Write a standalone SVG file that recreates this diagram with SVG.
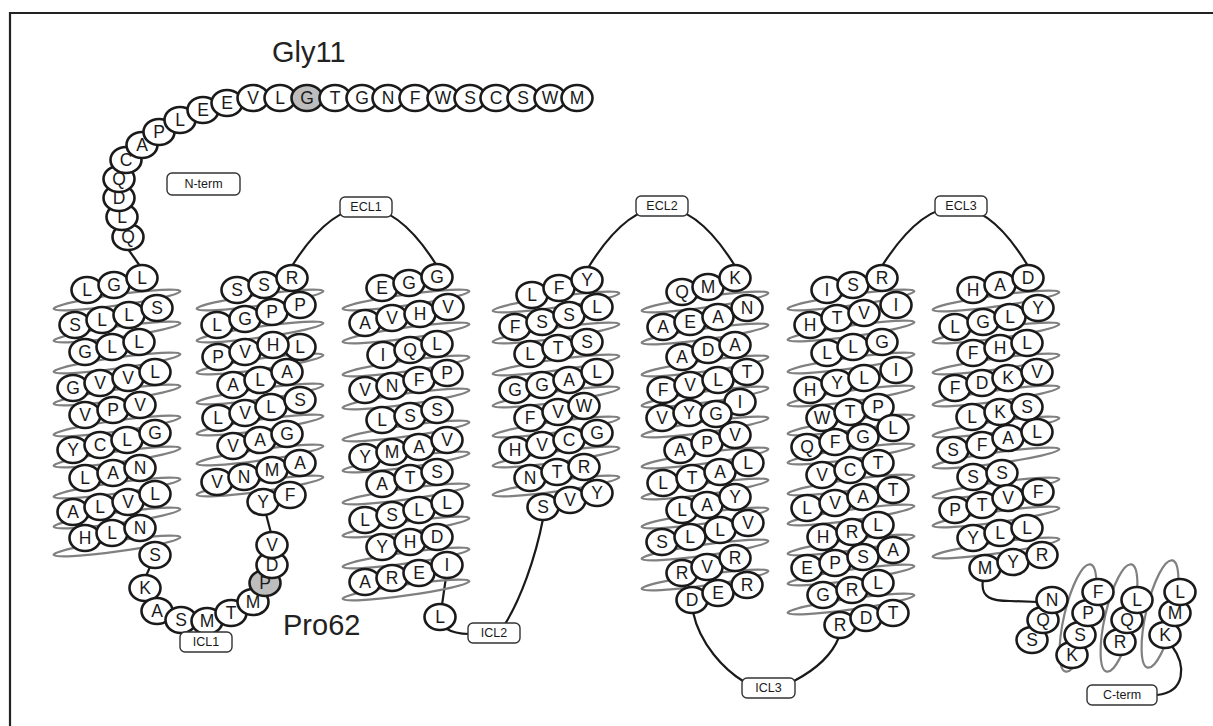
<svg xmlns="http://www.w3.org/2000/svg" xmlns:xlink="http://www.w3.org/1999/xlink" width="1213" height="726" viewBox="0 0 1213 726">
<style>
.res ellipse{rx:15.5px;ry:13px;fill:#fff;stroke:#1a1a1a;stroke-width:2.6}
.res ellipse.hl{fill:#bdbdbd}
.res text{font-family:"Liberation Sans",Arial,sans-serif;font-size:17.5px;text-anchor:middle;dominant-baseline:central;fill:#1a1a1a}
.coil{fill:none;stroke:#808080;stroke-width:2.2}
.conn path{fill:none;stroke:#1a1a1a;stroke-width:2.2}
.lbl rect{fill:#fff;stroke:#333;stroke-width:1.4}
.lbl text{font-family:"Liberation Sans",Arial,sans-serif;font-size:12.5px;text-anchor:middle;dominant-baseline:central;fill:#1a1a1a}
.big{font-family:"Liberation Sans",Arial,sans-serif;font-size:29px;fill:#222}
.frame{stroke:#222;stroke-width:2.2;fill:none}
</style>
<defs>
<ellipse id="loop" class="coil" cx="0" cy="0" rx="64" ry="5.5" transform="rotate(-8)"/>
<ellipse id="cloop" class="coil" cx="0" cy="0" rx="14" ry="55" transform="rotate(13)"/>
</defs>
<rect width="1213" height="726" fill="#fff"/>
<path class="frame" d="M10,726 L10,13 L1213,13"/>

<text class="big" x="272" y="62">Gly11</text>
<text class="big" x="283" y="635">Pro62</text>

<g id="connectors" class="conn">
<path d="M128,249 L140,266"/>
<path d="M150,567 L146,576"/>
<path d="M266,514 L271,533"/>
<path d="M292,266 Q365,150 437,266"/>
<path d="M446,577 L442,605"/>
<path d="M445,628 Q455,634 469,634"/>
<path d="M543,519 C535,560 520,600 505,624"/>
<path d="M588,268 Q662,148 735,266"/>
<path d="M693,612 C700,645 725,670 743,681"/>
<path d="M794,681 C815,670 832,655 839,637"/>
<path d="M882,266 Q957,148 1028,266"/>
<path d="M983,580 C980,598 992,601 1010,601 L1038,602"/>
<path d="M1172,646 C1186,665 1186,692 1157,695"/>
</g>

<g id="N-term" class="res">
<ellipse cx="128" cy="237"/><text x="128" y="237">Q</text>
<ellipse cx="122" cy="217"/><text x="122" y="217">L</text>
<ellipse cx="119" cy="198"/><text x="119" y="198">D</text>
<ellipse cx="119" cy="179"/><text x="119" y="179">Q</text>
<ellipse cx="126" cy="160"/><text x="126" y="160">C</text>
<ellipse cx="142" cy="145"/><text x="142" y="145">A</text>
<ellipse cx="159" cy="132"/><text x="159" y="132">P</text>
<ellipse cx="180" cy="120"/><text x="180" y="120">L</text>
<ellipse cx="203" cy="110"/><text x="203" y="110">E</text>
<ellipse cx="227" cy="103"/><text x="227" y="103">E</text>
<ellipse cx="253" cy="98"/><text x="253" y="98">V</text>
<ellipse cx="280" cy="98"/><text x="280" y="98">L</text>
<ellipse cx="307" cy="98" class="hl"/><text x="307" y="98">G</text>
<ellipse cx="335" cy="98"/><text x="335" y="98">T</text>
<ellipse cx="362" cy="98"/><text x="362" y="98">G</text>
<ellipse cx="388" cy="98"/><text x="388" y="98">N</text>
<ellipse cx="415" cy="98"/><text x="415" y="98">F</text>
<ellipse cx="443" cy="98"/><text x="443" y="98">W</text>
<ellipse cx="470" cy="98"/><text x="470" y="98">S</text>
<ellipse cx="496" cy="98"/><text x="496" y="98">C</text>
<ellipse cx="523" cy="98"/><text x="523" y="98">S</text>
<ellipse cx="550" cy="98"/><text x="550" y="98">W</text>
<ellipse cx="577" cy="98"/><text x="577" y="98">M</text>
</g>

<g id="TM1" class="res">
<use xlink:href="#loop" x="117" y="300"/><use xlink:href="#loop" x="117" y="332"/><use xlink:href="#loop" x="117" y="363"/><use xlink:href="#loop" x="117" y="395"/><use xlink:href="#loop" x="117" y="426"/><use xlink:href="#loop" x="117" y="457"/><use xlink:href="#loop" x="117" y="488"/><use xlink:href="#loop" x="117" y="518"/><use xlink:href="#loop" x="117" y="546"/>
<ellipse cx="87" cy="290"/><text x="87" y="290">L</text>
<ellipse cx="114" cy="285"/><text x="114" y="285">G</text>
<ellipse cx="142" cy="278"/><text x="142" y="278">L</text>
<ellipse cx="75" cy="325"/><text x="75" y="325">S</text>
<ellipse cx="102" cy="320"/><text x="102" y="320">L</text>
<ellipse cx="129" cy="315"/><text x="129" y="315">L</text>
<ellipse cx="157" cy="308"/><text x="157" y="308">S</text>
<ellipse cx="85" cy="352"/><text x="85" y="352">G</text>
<ellipse cx="112" cy="347"/><text x="112" y="347">L</text>
<ellipse cx="139" cy="342"/><text x="139" y="342">L</text>
<ellipse cx="73" cy="388"/><text x="73" y="388">G</text>
<ellipse cx="100" cy="383"/><text x="100" y="383">V</text>
<ellipse cx="128" cy="378"/><text x="128" y="378">V</text>
<ellipse cx="155" cy="372"/><text x="155" y="372">L</text>
<ellipse cx="85" cy="415"/><text x="85" y="415">V</text>
<ellipse cx="113" cy="410"/><text x="113" y="410">P</text>
<ellipse cx="140" cy="405"/><text x="140" y="405">V</text>
<ellipse cx="73" cy="450"/><text x="73" y="450">Y</text>
<ellipse cx="100" cy="445"/><text x="100" y="445">C</text>
<ellipse cx="127" cy="440"/><text x="127" y="440">L</text>
<ellipse cx="155" cy="433"/><text x="155" y="433">G</text>
<ellipse cx="85" cy="478"/><text x="85" y="478">L</text>
<ellipse cx="113" cy="473"/><text x="113" y="473">A</text>
<ellipse cx="140" cy="468"/><text x="140" y="468">N</text>
<ellipse cx="73" cy="512"/><text x="73" y="512">A</text>
<ellipse cx="100" cy="507"/><text x="100" y="507">L</text>
<ellipse cx="128" cy="502"/><text x="128" y="502">V</text>
<ellipse cx="155" cy="494"/><text x="155" y="494">L</text>
<ellipse cx="85" cy="538"/><text x="85" y="538">H</text>
<ellipse cx="112" cy="533"/><text x="112" y="533">L</text>
<ellipse cx="140" cy="528"/><text x="140" y="528">N</text>
</g>

<g id="ICL1-loop" class="res">
<ellipse cx="155" cy="555"/><text x="155" y="555">S</text>
<ellipse cx="145" cy="588"/><text x="145" y="588">K</text>
<ellipse cx="157" cy="611"/><text x="157" y="611">A</text>
<ellipse cx="181" cy="620"/><text x="181" y="620">S</text>
<ellipse cx="207" cy="621"/><text x="207" y="621">M</text>
<ellipse cx="231" cy="613"/><text x="231" y="613">T</text>
<ellipse cx="253" cy="602"/><text x="253" y="602">M</text>
<ellipse cx="265" cy="583" class="hl"/><text x="265" y="583">P</text>
<ellipse cx="272" cy="565"/><text x="272" y="565">D</text>
<ellipse cx="272" cy="545"/><text x="272" y="545">V</text>
</g>

<g id="TM2" class="res">
<use xlink:href="#loop" x="260" y="300"/><use xlink:href="#loop" x="260" y="332"/><use xlink:href="#loop" x="260" y="364"/><use xlink:href="#loop" x="260" y="394"/><use xlink:href="#loop" x="260" y="425"/><use xlink:href="#loop" x="260" y="455"/><use xlink:href="#loop" x="260" y="486"/>
<ellipse cx="237" cy="290"/><text x="237" y="290">S</text>
<ellipse cx="264" cy="285"/><text x="264" y="285">S</text>
<ellipse cx="292" cy="278"/><text x="292" y="278">R</text>
<ellipse cx="217" cy="325"/><text x="217" y="325">L</text>
<ellipse cx="245" cy="319"/><text x="245" y="319">G</text>
<ellipse cx="272" cy="312"/><text x="272" y="312">P</text>
<ellipse cx="300" cy="305"/><text x="300" y="305">P</text>
<ellipse cx="218" cy="357"/><text x="218" y="357">P</text>
<ellipse cx="245" cy="352"/><text x="245" y="352">V</text>
<ellipse cx="300" cy="347"/><text x="300" y="347">L</text>
<ellipse cx="273" cy="345"/><text x="273" y="345">H</text>
<ellipse cx="233" cy="385"/><text x="233" y="385">A</text>
<ellipse cx="260" cy="380"/><text x="260" y="380">L</text>
<ellipse cx="287" cy="372"/><text x="287" y="372">A</text>
<ellipse cx="218" cy="418"/><text x="218" y="418">L</text>
<ellipse cx="245" cy="413"/><text x="245" y="413">V</text>
<ellipse cx="271" cy="407"/><text x="271" y="407">L</text>
<ellipse cx="300" cy="400"/><text x="300" y="400">S</text>
<ellipse cx="233" cy="446"/><text x="233" y="446">V</text>
<ellipse cx="260" cy="440"/><text x="260" y="440">A</text>
<ellipse cx="287" cy="434"/><text x="287" y="434">G</text>
<ellipse cx="217" cy="482"/><text x="217" y="482">V</text>
<ellipse cx="244" cy="477"/><text x="244" y="477">N</text>
<ellipse cx="272" cy="470"/><text x="272" y="470">M</text>
<ellipse cx="300" cy="463"/><text x="300" y="463">A</text>
<ellipse cx="263" cy="502"/><text x="263" y="502">Y</text>
<ellipse cx="290" cy="495"/><text x="290" y="495">F</text>
</g>

<g id="TM3" class="res">
<use xlink:href="#loop" x="406" y="300"/><use xlink:href="#loop" x="406" y="333"/><use xlink:href="#loop" x="406" y="366"/><use xlink:href="#loop" x="406" y="399"/><use xlink:href="#loop" x="406" y="431"/><use xlink:href="#loop" x="406" y="462"/><use xlink:href="#loop" x="406" y="494"/><use xlink:href="#loop" x="406" y="527"/><use xlink:href="#loop" x="406" y="558"/><use xlink:href="#loop" x="406" y="590"/>
<ellipse cx="382" cy="288"/><text x="382" y="288">E</text>
<ellipse cx="409" cy="283"/><text x="409" y="283">G</text>
<ellipse cx="437" cy="277"/><text x="437" y="277">G</text>
<ellipse cx="365" cy="323"/><text x="365" y="323">A</text>
<ellipse cx="392" cy="318"/><text x="392" y="318">V</text>
<ellipse cx="420" cy="314"/><text x="420" y="314">H</text>
<ellipse cx="448" cy="307"/><text x="448" y="307">V</text>
<ellipse cx="383" cy="355"/><text x="383" y="355">I</text>
<ellipse cx="410" cy="350"/><text x="410" y="350">Q</text>
<ellipse cx="437" cy="344"/><text x="437" y="344">L</text>
<ellipse cx="365" cy="390"/><text x="365" y="390">V</text>
<ellipse cx="392" cy="386"/><text x="392" y="386">N</text>
<ellipse cx="419" cy="380"/><text x="419" y="380">F</text>
<ellipse cx="447" cy="373"/><text x="447" y="373">P</text>
<ellipse cx="382" cy="420"/><text x="382" y="420">L</text>
<ellipse cx="410" cy="416"/><text x="410" y="416">S</text>
<ellipse cx="437" cy="410"/><text x="437" y="410">S</text>
<ellipse cx="365" cy="457"/><text x="365" y="457">Y</text>
<ellipse cx="392" cy="452"/><text x="392" y="452">M</text>
<ellipse cx="419" cy="447"/><text x="419" y="447">A</text>
<ellipse cx="447" cy="440"/><text x="447" y="440">V</text>
<ellipse cx="382" cy="484"/><text x="382" y="484">A</text>
<ellipse cx="410" cy="478"/><text x="410" y="478">T</text>
<ellipse cx="437" cy="472"/><text x="437" y="472">S</text>
<ellipse cx="365" cy="520"/><text x="365" y="520">L</text>
<ellipse cx="392" cy="515"/><text x="392" y="515">S</text>
<ellipse cx="419" cy="510"/><text x="419" y="510">L</text>
<ellipse cx="447" cy="503"/><text x="447" y="503">L</text>
<ellipse cx="382" cy="547"/><text x="382" y="547">Y</text>
<ellipse cx="410" cy="542"/><text x="410" y="542">H</text>
<ellipse cx="437" cy="537"/><text x="437" y="537">D</text>
<ellipse cx="365" cy="582"/><text x="365" y="582">A</text>
<ellipse cx="392" cy="578"/><text x="392" y="578">R</text>
<ellipse cx="419" cy="573"/><text x="419" y="573">E</text>
<ellipse cx="447" cy="565"/><text x="447" y="565">I</text>
<ellipse cx="440" cy="617"/><text x="440" y="617">L</text>
</g>

<g id="TM4" class="res">
<use xlink:href="#loop" x="556" y="302"/><use xlink:href="#loop" x="556" y="333"/><use xlink:href="#loop" x="556" y="365"/><use xlink:href="#loop" x="556" y="397"/><use xlink:href="#loop" x="556" y="427"/><use xlink:href="#loop" x="556" y="457"/><use xlink:href="#loop" x="556" y="486"/>
<ellipse cx="532" cy="295"/><text x="532" y="295">L</text>
<ellipse cx="559" cy="288"/><text x="559" y="288">F</text>
<ellipse cx="587" cy="280"/><text x="587" y="280">Y</text>
<ellipse cx="515" cy="327"/><text x="515" y="327">F</text>
<ellipse cx="542" cy="322"/><text x="542" y="322">S</text>
<ellipse cx="569" cy="315"/><text x="569" y="315">S</text>
<ellipse cx="597" cy="307"/><text x="597" y="307">L</text>
<ellipse cx="530" cy="354"/><text x="530" y="354">L</text>
<ellipse cx="558" cy="348"/><text x="558" y="348">T</text>
<ellipse cx="587" cy="342"/><text x="587" y="342">S</text>
<ellipse cx="515" cy="390"/><text x="515" y="390">G</text>
<ellipse cx="542" cy="385"/><text x="542" y="385">G</text>
<ellipse cx="569" cy="380"/><text x="569" y="380">A</text>
<ellipse cx="597" cy="372"/><text x="597" y="372">L</text>
<ellipse cx="530" cy="418"/><text x="530" y="418">F</text>
<ellipse cx="558" cy="412"/><text x="558" y="412">V</text>
<ellipse cx="584" cy="406"/><text x="584" y="406">W</text>
<ellipse cx="515" cy="450"/><text x="515" y="450">H</text>
<ellipse cx="542" cy="445"/><text x="542" y="445">V</text>
<ellipse cx="569" cy="440"/><text x="569" y="440">C</text>
<ellipse cx="597" cy="433"/><text x="597" y="433">G</text>
<ellipse cx="530" cy="478"/><text x="530" y="478">N</text>
<ellipse cx="557" cy="472"/><text x="557" y="472">T</text>
<ellipse cx="584" cy="467"/><text x="584" y="467">R</text>
<ellipse cx="543" cy="507"/><text x="543" y="507">S</text>
<ellipse cx="570" cy="500"/><text x="570" y="500">V</text>
<ellipse cx="597" cy="493"/><text x="597" y="493">Y</text>
</g>

<g id="TM5" class="res">
<use xlink:href="#loop" x="705" y="302"/><use xlink:href="#loop" x="705" y="334"/><use xlink:href="#loop" x="705" y="366"/><use xlink:href="#loop" x="705" y="397"/><use xlink:href="#loop" x="705" y="427"/><use xlink:href="#loop" x="705" y="458"/><use xlink:href="#loop" x="705" y="489"/><use xlink:href="#loop" x="705" y="518"/><use xlink:href="#loop" x="705" y="550"/><use xlink:href="#loop" x="705" y="580"/>
<ellipse cx="682" cy="292"/><text x="682" y="292">Q</text>
<ellipse cx="708" cy="287"/><text x="708" y="287">M</text>
<ellipse cx="735" cy="278"/><text x="735" y="278">K</text>
<ellipse cx="663" cy="327"/><text x="663" y="327">A</text>
<ellipse cx="690" cy="322"/><text x="690" y="322">E</text>
<ellipse cx="718" cy="317"/><text x="718" y="317">A</text>
<ellipse cx="747" cy="308"/><text x="747" y="308">N</text>
<ellipse cx="682" cy="357"/><text x="682" y="357">A</text>
<ellipse cx="708" cy="350"/><text x="708" y="350">D</text>
<ellipse cx="735" cy="345"/><text x="735" y="345">A</text>
<ellipse cx="663" cy="390"/><text x="663" y="390">F</text>
<ellipse cx="690" cy="385"/><text x="690" y="385">V</text>
<ellipse cx="718" cy="380"/><text x="718" y="380">L</text>
<ellipse cx="747" cy="372"/><text x="747" y="372">T</text>
<ellipse cx="740" cy="402"/><text x="740" y="402">I</text>
<ellipse cx="662" cy="418"/><text x="662" y="418">V</text>
<ellipse cx="689" cy="413"/><text x="689" y="413">Y</text>
<ellipse cx="716" cy="414"/><text x="716" y="414">G</text>
<ellipse cx="680" cy="450"/><text x="680" y="450">A</text>
<ellipse cx="707" cy="443"/><text x="707" y="443">P</text>
<ellipse cx="735" cy="435"/><text x="735" y="435">V</text>
<ellipse cx="663" cy="483"/><text x="663" y="483">L</text>
<ellipse cx="692" cy="478"/><text x="692" y="478">T</text>
<ellipse cx="720" cy="472"/><text x="720" y="472">A</text>
<ellipse cx="748" cy="463"/><text x="748" y="463">L</text>
<ellipse cx="682" cy="510"/><text x="682" y="510">L</text>
<ellipse cx="707" cy="505"/><text x="707" y="505">A</text>
<ellipse cx="735" cy="497"/><text x="735" y="497">Y</text>
<ellipse cx="662" cy="542"/><text x="662" y="542">S</text>
<ellipse cx="690" cy="537"/><text x="690" y="537">L</text>
<ellipse cx="720" cy="530"/><text x="720" y="530">L</text>
<ellipse cx="748" cy="523"/><text x="748" y="523">V</text>
<ellipse cx="682" cy="573"/><text x="682" y="573">R</text>
<ellipse cx="707" cy="567"/><text x="707" y="567">V</text>
<ellipse cx="735" cy="558"/><text x="735" y="558">R</text>
<ellipse cx="692" cy="600"/><text x="692" y="600">D</text>
<ellipse cx="718" cy="593"/><text x="718" y="593">E</text>
<ellipse cx="747" cy="585"/><text x="747" y="585">R</text>
</g>

<g id="TM6" class="res">
<use xlink:href="#loop" x="851" y="300"/><use xlink:href="#loop" x="851" y="331"/><use xlink:href="#loop" x="851" y="363"/><use xlink:href="#loop" x="851" y="396"/><use xlink:href="#loop" x="851" y="425"/><use xlink:href="#loop" x="851" y="454"/><use xlink:href="#loop" x="851" y="485"/><use xlink:href="#loop" x="851" y="515"/><use xlink:href="#loop" x="851" y="545"/><use xlink:href="#loop" x="851" y="575"/><use xlink:href="#loop" x="851" y="604"/>
<ellipse cx="827" cy="290"/><text x="827" y="290">I</text>
<ellipse cx="853" cy="285"/><text x="853" y="285">S</text>
<ellipse cx="882" cy="278"/><text x="882" y="278">R</text>
<ellipse cx="810" cy="325"/><text x="810" y="325">H</text>
<ellipse cx="837" cy="318"/><text x="837" y="318">T</text>
<ellipse cx="864" cy="313"/><text x="864" y="313">V</text>
<ellipse cx="896" cy="305"/><text x="896" y="305">I</text>
<ellipse cx="827" cy="353"/><text x="827" y="353">L</text>
<ellipse cx="853" cy="347"/><text x="853" y="347">L</text>
<ellipse cx="882" cy="342"/><text x="882" y="342">G</text>
<ellipse cx="810" cy="390"/><text x="810" y="390">H</text>
<ellipse cx="837" cy="383"/><text x="837" y="383">Y</text>
<ellipse cx="864" cy="378"/><text x="864" y="378">L</text>
<ellipse cx="896" cy="370"/><text x="896" y="370">I</text>
<ellipse cx="822" cy="418"/><text x="822" y="418">W</text>
<ellipse cx="850" cy="412"/><text x="850" y="412">T</text>
<ellipse cx="878" cy="407"/><text x="878" y="407">P</text>
<ellipse cx="807" cy="447"/><text x="807" y="447">Q</text>
<ellipse cx="835" cy="442"/><text x="835" y="442">F</text>
<ellipse cx="863" cy="437"/><text x="863" y="437">G</text>
<ellipse cx="893" cy="428"/><text x="893" y="428">L</text>
<ellipse cx="822" cy="475"/><text x="822" y="475">V</text>
<ellipse cx="850" cy="470"/><text x="850" y="470">C</text>
<ellipse cx="878" cy="463"/><text x="878" y="463">T</text>
<ellipse cx="807" cy="508"/><text x="807" y="508">L</text>
<ellipse cx="835" cy="503"/><text x="835" y="503">V</text>
<ellipse cx="863" cy="497"/><text x="863" y="497">A</text>
<ellipse cx="893" cy="490"/><text x="893" y="490">T</text>
<ellipse cx="823" cy="537"/><text x="823" y="537">H</text>
<ellipse cx="852" cy="532"/><text x="852" y="532">R</text>
<ellipse cx="878" cy="525"/><text x="878" y="525">L</text>
<ellipse cx="807" cy="568"/><text x="807" y="568">E</text>
<ellipse cx="835" cy="563"/><text x="835" y="563">P</text>
<ellipse cx="863" cy="557"/><text x="863" y="557">S</text>
<ellipse cx="893" cy="550"/><text x="893" y="550">A</text>
<ellipse cx="823" cy="595"/><text x="823" y="595">G</text>
<ellipse cx="852" cy="590"/><text x="852" y="590">R</text>
<ellipse cx="878" cy="583"/><text x="878" y="583">L</text>
<ellipse cx="840" cy="625"/><text x="840" y="625">R</text>
<ellipse cx="866" cy="618"/><text x="866" y="618">D</text>
<ellipse cx="893" cy="613"/><text x="893" y="613">T</text>
</g>

<g id="TM7" class="res">
<use xlink:href="#loop" x="996" y="301"/><use xlink:href="#loop" x="996" y="333"/><use xlink:href="#loop" x="996" y="364"/><use xlink:href="#loop" x="996" y="396"/><use xlink:href="#loop" x="996" y="427"/><use xlink:href="#loop" x="996" y="458"/><use xlink:href="#loop" x="996" y="488"/><use xlink:href="#loop" x="996" y="517"/><use xlink:href="#loop" x="996" y="548"/>
<ellipse cx="973" cy="290"/><text x="973" y="290">H</text>
<ellipse cx="1000" cy="285"/><text x="1000" y="285">A</text>
<ellipse cx="1028" cy="278"/><text x="1028" y="278">D</text>
<ellipse cx="955" cy="327"/><text x="955" y="327">L</text>
<ellipse cx="983" cy="322"/><text x="983" y="322">G</text>
<ellipse cx="1010" cy="317"/><text x="1010" y="317">L</text>
<ellipse cx="1038" cy="308"/><text x="1038" y="308">Y</text>
<ellipse cx="973" cy="353"/><text x="973" y="353">F</text>
<ellipse cx="1000" cy="348"/><text x="1000" y="348">H</text>
<ellipse cx="1027" cy="343"/><text x="1027" y="343">L</text>
<ellipse cx="955" cy="388"/><text x="955" y="388">F</text>
<ellipse cx="982" cy="383"/><text x="982" y="383">D</text>
<ellipse cx="1008" cy="378"/><text x="1008" y="378">K</text>
<ellipse cx="1037" cy="372"/><text x="1037" y="372">V</text>
<ellipse cx="972" cy="417"/><text x="972" y="417">L</text>
<ellipse cx="1000" cy="412"/><text x="1000" y="412">K</text>
<ellipse cx="1027" cy="407"/><text x="1027" y="407">S</text>
<ellipse cx="953" cy="450"/><text x="953" y="450">S</text>
<ellipse cx="982" cy="445"/><text x="982" y="445">F</text>
<ellipse cx="1008" cy="438"/><text x="1008" y="438">A</text>
<ellipse cx="1037" cy="432"/><text x="1037" y="432">L</text>
<ellipse cx="973" cy="477"/><text x="973" y="477">S</text>
<ellipse cx="1002" cy="473"/><text x="1002" y="473">S</text>
<ellipse cx="955" cy="510"/><text x="955" y="510">P</text>
<ellipse cx="982" cy="505"/><text x="982" y="505">T</text>
<ellipse cx="1008" cy="498"/><text x="1008" y="498">V</text>
<ellipse cx="1038" cy="492"/><text x="1038" y="492">F</text>
<ellipse cx="973" cy="538"/><text x="973" y="538">Y</text>
<ellipse cx="1000" cy="533"/><text x="1000" y="533">L</text>
<ellipse cx="1027" cy="528"/><text x="1027" y="528">L</text>
<ellipse cx="985" cy="568"/><text x="985" y="568">M</text>
<ellipse cx="1013" cy="562"/><text x="1013" y="562">Y</text>
<ellipse cx="1042" cy="555"/><text x="1042" y="555">R</text>
</g>

<g id="H8" class="res">
<use xlink:href="#cloop" x="1078" y="618"/><use xlink:href="#cloop" x="1119" y="618"/><use xlink:href="#cloop" x="1160" y="614"/>
<ellipse cx="1032" cy="640"/><text x="1032" y="640">S</text>
<ellipse cx="1043" cy="620"/><text x="1043" y="620">Q</text>
<ellipse cx="1052" cy="600"/><text x="1052" y="600">N</text>
<ellipse cx="1072" cy="655"/><text x="1072" y="655">K</text>
<ellipse cx="1080" cy="635"/><text x="1080" y="635">S</text>
<ellipse cx="1088" cy="613"/><text x="1088" y="613">P</text>
<ellipse cx="1098" cy="592"/><text x="1098" y="592">F</text>
<ellipse cx="1120" cy="642"/><text x="1120" y="642">R</text>
<ellipse cx="1127" cy="620"/><text x="1127" y="620">Q</text>
<ellipse cx="1137" cy="600"/><text x="1137" y="600">L</text>
<ellipse cx="1165" cy="635"/><text x="1165" y="635">K</text>
<ellipse cx="1175" cy="613"/><text x="1175" y="613">M</text>
<ellipse cx="1180" cy="592"/><text x="1180" y="592">L</text>
</g>

<g id="labels" class="lbl">
<g id="lbl-Nterm"><rect x="167" y="173" width="73" height="22" rx="5"/><text x="203.5" y="184">N-term</text></g>
<g id="lbl-ECL1"><rect x="340" y="197" width="52" height="20" rx="5"/><text x="366" y="207">ECL1</text></g>
<g id="lbl-ECL2"><rect x="636" y="196" width="52" height="20" rx="5"/><text x="662" y="206">ECL2</text></g>
<g id="lbl-ECL3"><rect x="935" y="196" width="52" height="20" rx="5"/><text x="961" y="206">ECL3</text></g>
<g id="lbl-ICL1"><rect x="180" y="632" width="52" height="20" rx="5"/><text x="206" y="642">ICL1</text></g>
<g id="lbl-ICL2"><rect x="468" y="623" width="52" height="20" rx="5"/><text x="494" y="633">ICL2</text></g>
<g id="lbl-ICL3"><rect x="742" y="678" width="53" height="20" rx="5"/><text x="768.5" y="688">ICL3</text></g>
<g id="lbl-Cterm"><rect x="1087" y="685" width="70" height="20" rx="5"/><text x="1122" y="695">C-term</text></g>
</g>
</svg>
